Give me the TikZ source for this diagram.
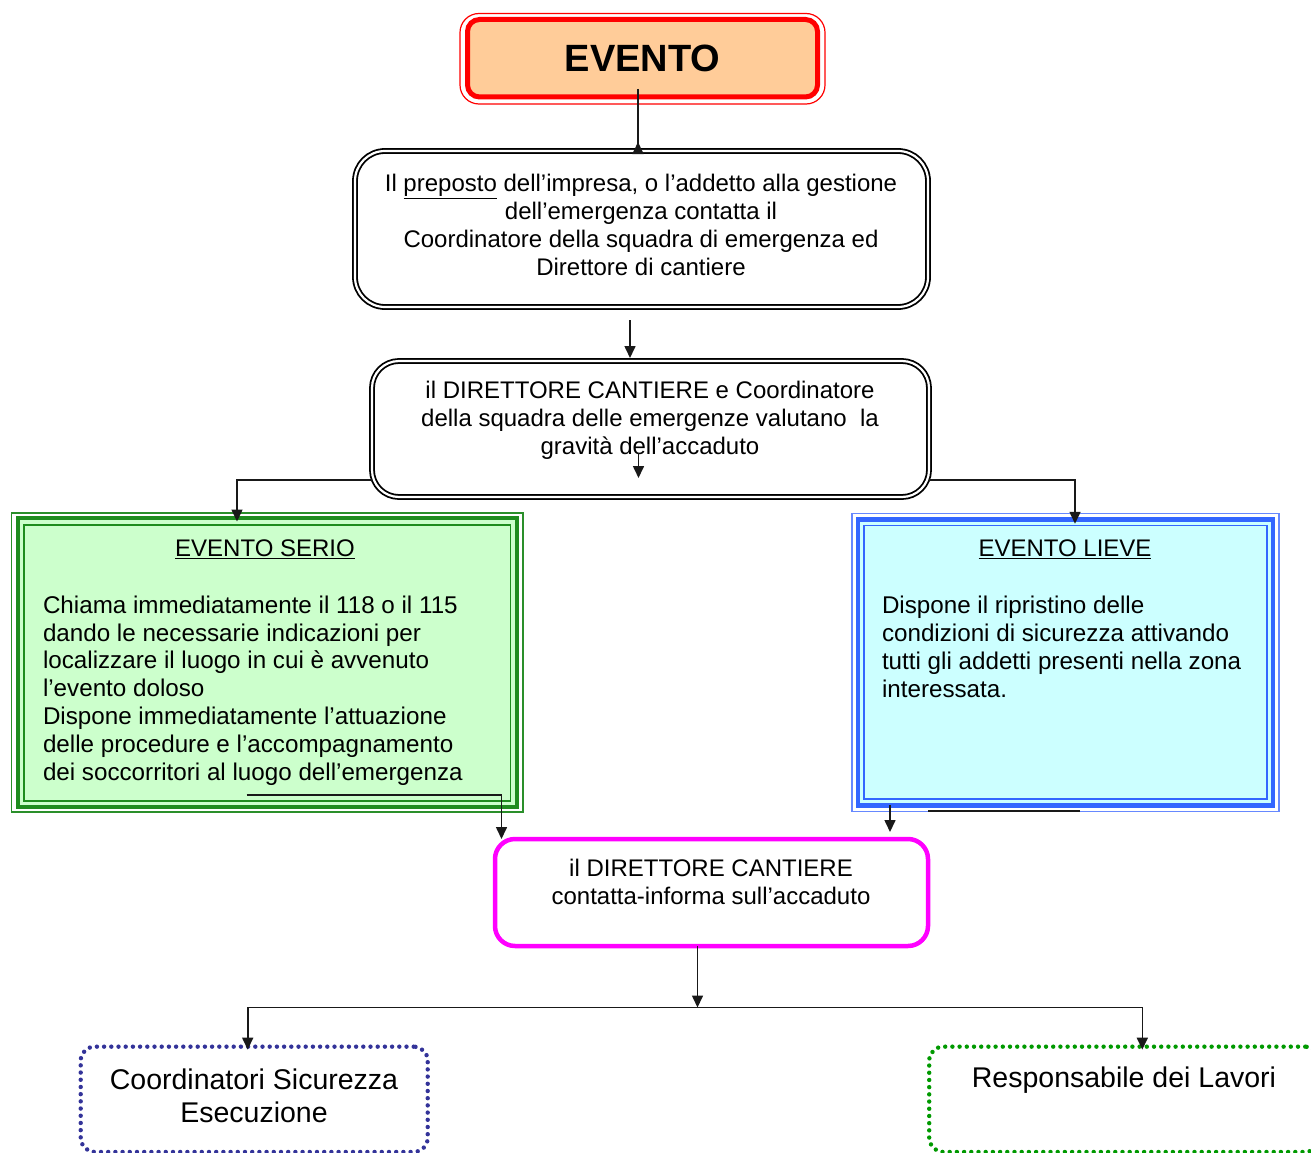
\documentclass[tikz,border=0pt]{standalone}
\usepackage{fontspec}
\setmainfont{Liberation Sans}
\usetikzlibrary{arrows.meta,calc}
\definecolor{peach}{HTML}{FFCC99}
\definecolor{evred}{HTML}{FF0000}
\definecolor{sgreen}{HTML}{1E8C1E}
\definecolor{sgreenlt}{HTML}{2A8F2A}
\definecolor{sgreenfill}{HTML}{CCFFCC}
\definecolor{lblue}{HTML}{3366FF}
\definecolor{lbluelt}{HTML}{6688FF}
\definecolor{lbluefill}{HTML}{CCFFFF}
\definecolor{magbox}{HTML}{FF00FF}
\definecolor{navydot}{HTML}{333399}
\definecolor{greendot}{HTML}{009900}
\newcommand\strq{\char"27\relax}
\begin{document}
\begin{tikzpicture}[x=1pt,y=-1pt,
  every node/.style={inner sep=0pt, outer sep=0pt},
  txt/.style={font=\fontsize{24}{28}\selectfont, align=center, text=black},
  bigtxt/.style={font=\fontsize{28.5}{33}\selectfont, align=center, text=black},
  arr/.style={draw=black!90, line width=1.6pt, -{Triangle[length=12pt,width=11pt]}},
  plain/.style={draw=black!90, line width=1.6pt},
  dblbox/.style={draw=black, line width=1.8pt, double=white, double distance=2.2pt, fill=white},
  dotbox/.style={line width=4.4pt, dash pattern=on 0pt off 7.2pt, line cap=round, rounded corners=14pt}
]
\path[use as bounding box] (0,0) rectangle (1311,1153);
\begin{scope}
\clip (0,0) rectangle (1311,1153);

% EVENTO
\node[draw=evred, line width=5pt, fill=peach, rounded corners=12pt,
      minimum width=350pt, minimum height=77.5pt,
      font=\fontsize{38}{40}\selectfont\bfseries] (ev) at (642.5,58.25) {EVENTO};
\draw[evred, line width=1.2pt, rounded corners=19pt]
  ([shift={(-7.5,-6)}]ev.north west) rectangle ([shift={(7.5,7)}]ev.south east);

% box 2
\node[dblbox, rounded corners=30pt, minimum width=573pt, minimum height=156pt] (b2) at (641.5,229) {};
\node[txt] (b2t) at (641,225) {Il \underline{preposto} dell\strq impresa, o l’addetto alla gestione\\
  dell’emergenza contatta il\\ Coordinatore della squadra di emergenza ed\\ Direttore di cantiere};

% box 3
\node[dblbox, rounded corners=27pt, minimum width=557pt, minimum height=136pt] (b3) at (650.5,429) {};
\node[txt] (b3t) at (650,420) {il DIRETTORE CANTIERE e Coordinatore\\
  della squadra delle emergenze valutano\ \ la\\ gravità dell\strq accaduto};

% EVENTO SERIO
\node[draw=sgreen, line width=4.5pt, fill=sgreenfill, minimum width=499pt, minimum height=289pt] (serio) at (267.5,662.5) {};
\draw[sgreenlt, line width=1.6pt] ([shift={(-6.5,-5)}]serio.north west) rectangle ([shift={(6,5)}]serio.south east);
\draw[sgreen, line width=1.5pt] ([shift={(6,7)}]serio.north west) rectangle ([shift={(-6.5,-6)}]serio.south east);
\node[txt] (seriot) at (265,549) {\underline{EVENTO SERIO}};
\node[txt, align=left, anchor=west, font=\fontsize{24.2}{27.8}\selectfont] (seriob) at (43,690.5) {Chiama immediatamente il 118 o il 115\\
  dando le necessarie indicazioni per\\
  localizzare il luogo in cui è avvenuto\\
  l’evento doloso\\
  Dispone immediatamente l’attuazione\\
  delle procedure e l\strq accompagnamento\\
  dei soccorritori al luogo dell\strq emergenza};

% EVENTO LIEVE
\node[draw=lblue, line width=4.5pt, fill=lbluefill, minimum width=415pt, minimum height=286pt] (lieve) at (1065.5,662.25) {};
\draw[lbluelt, line width=1.5pt] ([shift={(-6,-6)}]lieve.north west) rectangle ([shift={(6,6)}]lieve.south east);
\draw[lblue, line width=1.5pt] ([shift={(6,6)}]lieve.north west) rectangle ([shift={(-6,-6.5)}]lieve.south east);
\node[txt] (lievet) at (1065,549) {\underline{EVENTO LIEVE}};
\node[txt, align=left, anchor=west, font=\fontsize{24.2}{27.8}\selectfont] (lieveb) at (882,647) {Dispone il ripristino delle\\
  condizioni di sicurezza attivando\\
  tutti gli addetti presenti nella zona\\
  interessata.};

% magenta box
\node[draw=magbox, line width=4.5pt, fill=white, rounded corners=20pt, minimum width=433pt, minimum height=107pt] (mag) at (711.5,892.5) {};
\node[txt] (magt) at (711,882) {il DIRETTORE CANTIERE\\ contatta-informa sull’accaduto};

% dotted boxes
\node[dotbox, draw=navydot, minimum width=347pt, minimum height=105.3pt] (cse) at (254.2,1099.3) {};
\node[bigtxt] (cset) at (254,1096) {Coordinatori Sicurezza\\ Esecuzione};
\node[dotbox, draw=greendot, minimum width=390pt, minimum height=105.3pt] (rdl) at (1124.2,1099.3) {};
\node[bigtxt] (rdlt) at (1124,1080) {Responsabile dei Lavori};

% connectors
\draw[arr] ([shift={(-4.5,-8)}]ev.south) -- ([shift={(-4.5,-8)}]ev.south |- b2.north) -- ++(0,-1);
\draw[arr] ([shift={(-11.5,13)}]b2.south) -- ([shift={(-20.5,-3)}]b3.north);
\draw[arr] ([shift={(-12,24)}]b3.center) -- ([shift={(-12,49)}]b3.center);
\draw[arr] ([shift={(0,51)}]b3.west) -| ([shift={(-30.5,3.5)}]serio.north);
\draw[arr] ([shift={(0,51)}]b3.east) -| ([shift={(9.5,4.5)}]lieve.north);
\draw[arr] ([shift={(-21,-12)}]serio.south) -| ([xshift=-210]mag.north);
\draw[arr] ([xshift=-175.5]lieve.south) -- ([shift={(178.5,-7)}]mag.north);
\draw[plain, line width=2pt] ([shift={(-137.5,6)}]lieve.south) -- ([shift={(14.5,6)}]lieve.south);
\draw[arr] ([xshift=-14]mag.south) -- ++(0,61.5) coordinate (split);
\draw[arr] (split) -| ([shift={(-6.5,3)}]cse.north);
\draw[arr] (split) -| ([shift={(18.1,3)}]rdl.north);
\end{scope}
\end{tikzpicture}
\end{document}
